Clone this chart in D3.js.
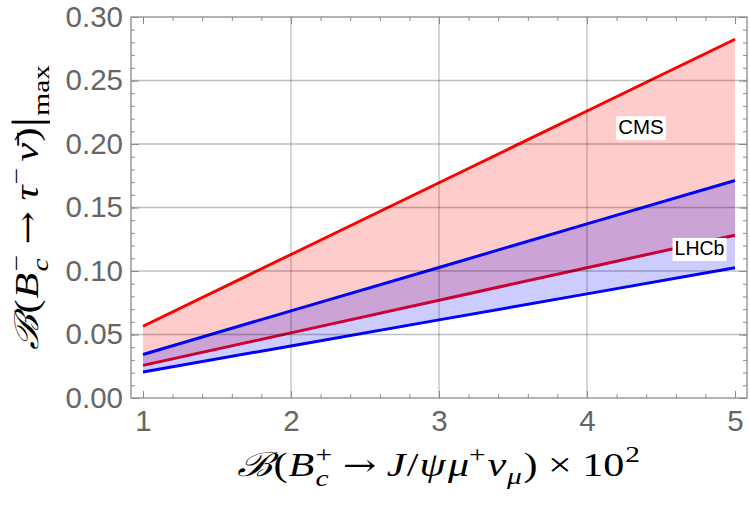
<!DOCTYPE html>
<html>
<head>
<meta charset="utf-8">
<script src="https://cdn.jsdelivr.net/npm/d3@7"></script>
<style>
  body { margin: 0; background: #fff; }
  svg { display: block; }
</style>
</head>
<body>
<svg width="750" height="507"></svg>
<script>
// x = B(Bc+ -> J/psi mu nu) x 10^2
var xValues = [1, 2, 3, 4, 5];
// CMS band (upper, lower)
var cmsUpper = [0.0565, 0.1130, 0.1695, 0.2260, 0.2825];
var cmsLower = [0.0257, 0.0513, 0.0770, 0.1026, 0.1282];
// LHCb band (upper, lower)
var lhcbUpper = [0.0343, 0.0686, 0.1028, 0.1371, 0.1713];
var lhcbLower = [0.0205, 0.0410, 0.0615, 0.0820, 0.1025];

var xTicks = [1, 2, 3, 4, 5];
var yTicks = [0.00, 0.05, 0.10, 0.15, 0.20, 0.25, 0.30];

var labels = [
  {text: "CMS", x: 4.365, y: 0.2134, size: 20.5},
  {text: "LHCb", x: 4.76, y: 0.118, size: 19.5}
];

var svg = d3.select("svg");
var frame = {left: 131, right: 747, top: 17, bottom: 398};

var x = d3.scaleLinear().domain([1, 5]).range([143, 735]);
var y = d3.scaleLinear().domain([0, 0.30]).range([frame.bottom, frame.top]);

var pts = function(arr) { return xValues.map(function(v, i) { return [v, arr[i]]; }); };
var bandData = function(up, lo) { return xValues.map(function(v, i) { return {x: v, hi: up[i], lo: lo[i]}; }); };

var area = d3.area()
    .x(function(d) { return x(d.x); })
    .y0(function(d) { return y(d.lo); })
    .y1(function(d) { return y(d.hi); });
var line = d3.line()
    .x(function(d) { return x(d[0]); })
    .y(function(d) { return y(d[1]); });

// clip to frame
svg.append("clipPath").attr("id", "clip")
  .append("rect")
    .attr("x", frame.left).attr("y", frame.top)
    .attr("width", frame.right - frame.left).attr("height", frame.bottom - frame.top);

var plot = svg.append("g").attr("clip-path", "url(#clip)");

// CMS band + its lines
plot.append("path").datum(bandData(cmsUpper, cmsLower))
    .attr("d", area).attr("fill", "#ff0000").attr("fill-opacity", 0.2);
plot.append("path").datum(pts(cmsUpper))
    .attr("d", line).attr("fill", "none").attr("stroke", "#ff0000").attr("stroke-width", 3);
plot.append("path").datum(pts(cmsLower))
    .attr("d", line).attr("fill", "none").attr("stroke", "#ff0000").attr("stroke-width", 3);

// LHCb band on top
plot.append("path").datum(bandData(lhcbUpper, lhcbLower))
    .attr("d", area).attr("fill", "#0000ff").attr("fill-opacity", 0.2);
plot.append("path").datum(pts(lhcbUpper))
    .attr("d", line).attr("fill", "none").attr("stroke", "#0000ff").attr("stroke-width", 3);
plot.append("path").datum(pts(lhcbLower))
    .attr("d", line).attr("fill", "none").attr("stroke", "#0000ff").attr("stroke-width", 3);

// grid lines
var grid = svg.append("g");
grid.selectAll(".gx").data(xTicks.slice(1, -1)).enter().append("line")
    .attr("x1", function(d) { return x(d); }).attr("x2", function(d) { return x(d); })
    .attr("y1", frame.top).attr("y2", frame.bottom)
    .attr("stroke", "#000").attr("stroke-opacity", 0.25).attr("stroke-width", 1.3);
grid.selectAll(".gy").data(yTicks.slice(1, -1)).enter().append("line")
    .attr("y1", function(d) { return y(d); }).attr("y2", function(d) { return y(d); })
    .attr("x1", frame.left).attr("x2", frame.right)
    .attr("stroke", "#000").attr("stroke-opacity", 0.25).attr("stroke-width", 1.3);

// labels with white boxes
labels.forEach(function(l) {
  var g = svg.append("g");
  var t = g.append("text")
      .attr("x", x(l.x)).attr("y", y(l.y)).attr("dy", "0.35em")
      .attr("text-anchor", "middle")
      .attr("font-family", "Liberation Sans, Arial, sans-serif")
      .attr("font-size", l.size).attr("fill", "#000")
      .text(l.text);
  var bb = t.node().getBBox();
  g.insert("rect", "text")
      .attr("x", bb.x - 2).attr("y", bb.y + 1)
      .attr("width", bb.width + 4).attr("height", bb.height + 1)
      .attr("fill", "#fff");
});

// axes (ticks pointing inward)
var tickColor = "#8a8a8a";
var minorX = d3.range(0, 21).map(function(i) { return 1 + i * 0.2; });
var minorY = d3.range(0, 31).map(function(i) { return i * 0.01; });

function styleAxis(g) {
  g.select(".domain").remove();
  g.selectAll(".tick line").attr("stroke", tickColor).attr("stroke-width", 1);
  g.selectAll(".tick text")
      .attr("fill", "#666")
      .attr("font-family", "Liberation Sans, Arial, sans-serif")
      .attr("font-size", 29.5);
}

svg.append("g").attr("transform", "translate(0," + frame.bottom + ")")
    .call(d3.axisBottom(x).tickValues(minorX).tickSize(-4).tickFormat(""))
    .call(styleAxis);
svg.append("g").attr("transform", "translate(0," + frame.bottom + ")")
    .call(d3.axisBottom(x).tickValues(xTicks).tickSize(-7).tickPadding(12).tickFormat(d3.format("d")))
    .call(styleAxis);
svg.append("g").attr("transform", "translate(0," + frame.top + ")")
    .call(d3.axisTop(x).tickValues(minorX).tickSize(-4).tickFormat(""))
    .call(styleAxis);
svg.append("g").attr("transform", "translate(0," + frame.top + ")")
    .call(d3.axisTop(x).tickValues(xTicks).tickSize(-7).tickFormat(""))
    .call(styleAxis);

svg.append("g").attr("transform", "translate(" + frame.left + ",0)")
    .call(d3.axisLeft(y).tickValues(minorY).tickSize(-4).tickFormat(""))
    .call(styleAxis);
svg.append("g").attr("transform", "translate(" + frame.left + ",0)")
    .call(d3.axisLeft(y).tickValues(yTicks).tickSize(-8).tickPadding(8).tickFormat(d3.format(".2f")))
    .call(styleAxis);
svg.append("g").attr("transform", "translate(" + frame.right + ",0)")
    .call(d3.axisRight(y).tickValues(minorY).tickSize(-4).tickFormat(""))
    .call(styleAxis);
svg.append("g").attr("transform", "translate(" + frame.right + ",0)")
    .call(d3.axisRight(y).tickValues(yTicks).tickSize(-8).tickFormat(""))
    .call(styleAxis);

// frame
svg.append("rect")
    .attr("x", frame.left).attr("y", frame.top)
    .attr("width", frame.right - frame.left).attr("height", frame.bottom - frame.top)
    .attr("fill", "none").attr("stroke", tickColor).attr("stroke-width", 1.3);

// math-like axis titles
var serif = "Liberation Serif, DejaVu Serif, serif";
function mathLabel(parent, pieces, size) {
  var g = parent.append("g");
  var cx = 0;
  pieces.forEach(function(p) {
    if (p.stack) {
      var w = 0;
      p.stack.forEach(function(s) {
        var t = g.append("text").attr("x", cx).attr("y", s.dy * size)
            .attr("font-family", serif).attr("font-size", size * 0.7)
            .attr("font-style", s.it ? "italic" : "normal").text(s.t);
        w = Math.max(w, t.node().getComputedTextLength());
      });
      cx += w + (p.gap || 0) * size;
    } else {
      var fs = size * (p.scale || 1);
      var t = g.append("text").attr("x", cx + (p.pre || 0) * size).attr("y", (p.dy || 0) * size)
          .attr("font-family", p.font || serif).attr("font-size", fs)
          .attr("font-style", p.it ? "italic" : "normal").text(p.t);
      cx += (p.pre || 0) * size + t.node().getComputedTextLength() + (p.gap || 0) * size;
    }
  });
  return {g: g, width: cx};
}

var arrowFont = "DejaVu Serif, serif";
var xTitle = mathLabel(svg, [
  {t: "\u212C", it: true, font: "DejaVu Serif, serif", gap: 0.02},
  {t: "(", gap: 0.02},
  {t: "B", it: true, gap: 0.03},
  {stack: [{t: "+", dy: -0.42}, {t: "c", it: true, dy: 0.3}], gap: 0.25},
  {t: "\u2192", font: arrowFont, scale: 0.95, gap: 0.25},
  {t: "J", it: true, gap: 0.03},
  {t: "/", gap: 0.03},
  {t: "\u03C8", it: true, gap: 0.05},
  {t: "\u03BC", it: true},
  {t: "+", scale: 0.7, dy: -0.42, gap: 0.04},
  {t: "\u03BD", it: true, gap: 0.02},
  {t: "\u03BC", it: true, scale: 0.7, dy: 0.25, gap: 0.04},
  {t: ")", gap: 0.25},
  {t: "\u00D7", gap: 0.25},
  {t: "10", gap: 0.02},
  {t: "2", scale: 0.7, dy: -0.42}
], 33);
xTitle.g.attr("transform", "translate(237,476) scale(" + (403 / xTitle.width) + ",1)");

var yTitle = mathLabel(svg, [
  {t: "\u212C", it: true, font: "DejaVu Serif, serif", gap: 0.02},
  {t: "(", gap: 0.02},
  {t: "B", it: true, gap: 0.03},
  {stack: [{t: "\u2212", dy: -0.42}, {t: "c", it: true, dy: 0.3}], gap: 0.25},
  {t: "\u2192", font: arrowFont, scale: 0.95, gap: 0.25},
  {t: "\u03C4", it: true, gap: 0.02},
  {t: "\u2212", scale: 0.7, dy: -0.42, gap: 0.15},
  {t: "\u03BD\u0304", it: true, gap: 0.03},
  {t: ")"},
  {t: "|", scale: 1.3, dy: 0.1, gap: 0.02},
  {t: "max", scale: 0.7, dy: 0.32}
], 33);
yTitle.g.attr("transform", "translate(38,350) rotate(-90) scale(" + (285 / yTitle.width) + ",1)");
</script>
</body>
</html>
